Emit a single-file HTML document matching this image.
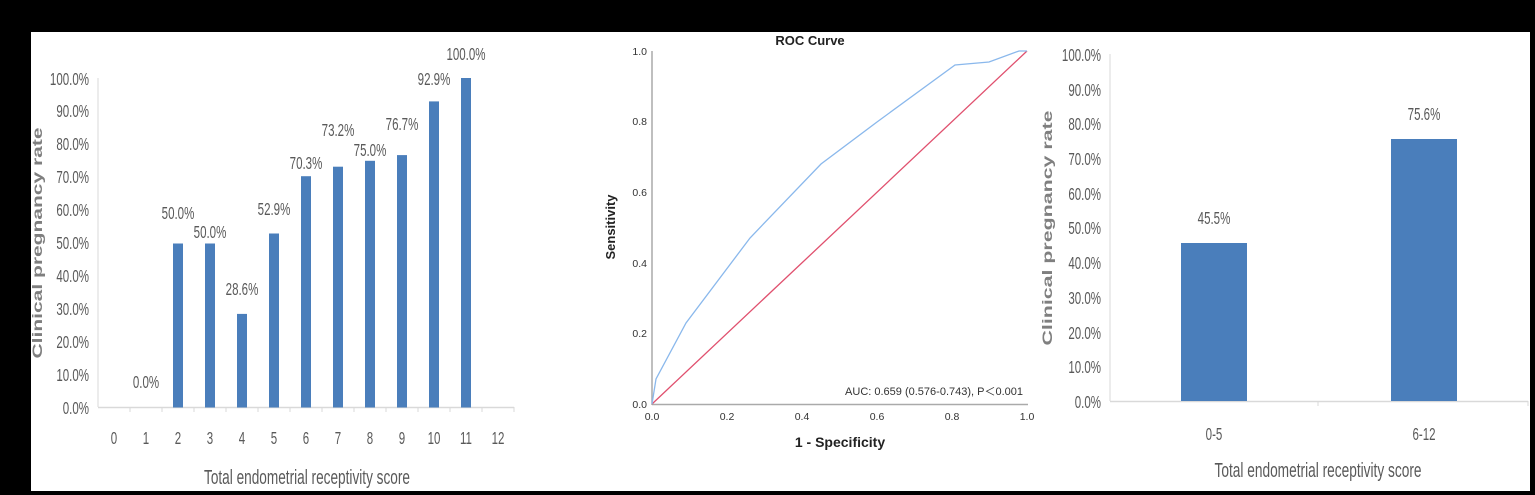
<!DOCTYPE html>
<html><head><meta charset="utf-8"><style>
html,body{margin:0;padding:0;background:#000;}
svg{display:block}
.t{font-family:"Liberation Sans",sans-serif;fill:#595959;font-size:18px}
.se{transform-box:fill-box;transform-origin:right center;transform:scaleX(.64)}
.sm{transform-box:fill-box;transform-origin:center center;transform:scaleX(.64)}
.a{font-family:"Liberation Sans",sans-serif;fill:#333;font-size:10.5px}
.b{font-family:"Liberation Sans",sans-serif;font-weight:bold;fill:#222}
</style></head><body>
<svg width="1535" height="495" viewBox="0 0 1535 495" xmlns="http://www.w3.org/2000/svg">
<rect x="0" y="0" width="1535" height="495" fill="#000"/>
<rect x="31" y="32" width="1499" height="459" fill="#fff"/>

<!-- Chart 1 -->
<g>
<line x1="98" y1="78" x2="98" y2="407" stroke="#d9d9d9"/>
<line x1="98" y1="407.5" x2="514" y2="407.5" stroke="#d9d9d9" stroke-width="1.5"/>
<g stroke="#d9d9d9">
<line x1="130" y1="407" x2="130" y2="412"/><line x1="162" y1="407" x2="162" y2="412"/><line x1="194" y1="407" x2="194" y2="412"/><line x1="226" y1="407" x2="226" y2="412"/><line x1="258" y1="407" x2="258" y2="412"/><line x1="290" y1="407" x2="290" y2="412"/><line x1="322" y1="407" x2="322" y2="412"/><line x1="354" y1="407" x2="354" y2="412"/><line x1="386" y1="407" x2="386" y2="412"/><line x1="418" y1="407" x2="418" y2="412"/><line x1="450" y1="407" x2="450" y2="412"/><line x1="482" y1="407" x2="482" y2="412"/><line x1="514" y1="407" x2="514" y2="412"/>
</g>
<g class="t" text-anchor="end">
<text class="se" x="89" y="414">0.0%</text><text class="se" x="89" y="381">10.0%</text><text class="se" x="89" y="348">20.0%</text><text class="se" x="89" y="315">30.0%</text><text class="se" x="89" y="282">40.0%</text><text class="se" x="89" y="249">50.0%</text><text class="se" x="89" y="216">60.0%</text><text class="se" x="89" y="183">70.0%</text><text class="se" x="89" y="150">80.0%</text><text class="se" x="89" y="117">90.0%</text><text class="se" x="89" y="85">100.0%</text>
</g>
<g fill="#4a7ebb">
<rect x="173" y="243.5" width="10" height="164"/>
<rect x="205" y="243.5" width="10" height="164"/>
<rect x="237" y="313.9" width="10" height="93.6"/>
<rect x="269" y="233.5" width="10" height="174"/>
<rect x="301" y="176.2" width="10" height="231.3"/>
<rect x="333" y="166.7" width="10" height="240.8"/>
<rect x="365" y="160.8" width="10" height="246.7"/>
<rect x="397" y="155.1" width="10" height="252.4"/>
<rect x="429" y="101.4" width="10" height="306.1"/>
<rect x="461" y="78" width="10" height="329.5"/>
</g>
<g class="t" text-anchor="middle">
<text class="sm" x="146" y="388">0.0%</text>
<text class="sm" x="178" y="219">50.0%</text><text class="sm" x="210" y="238">50.0%</text><text class="sm" x="242" y="295">28.6%</text>
<text class="sm" x="274" y="215">52.9%</text><text class="sm" x="306" y="169">70.3%</text><text class="sm" x="338" y="136">73.2%</text>
<text class="sm" x="370" y="156">75.0%</text><text class="sm" x="402" y="130">76.7%</text><text class="sm" x="434" y="85">92.9%</text><text class="sm" x="466" y="60">100.0%</text>
</g>
<g class="t" text-anchor="middle">
<text class="sm" x="114" y="444">0</text><text class="sm" x="146" y="444">1</text><text class="sm" x="178" y="444">2</text><text class="sm" x="210" y="444">3</text><text class="sm" x="242" y="444">4</text><text class="sm" x="274" y="444">5</text><text class="sm" x="306" y="444">6</text><text class="sm" x="338" y="444">7</text><text class="sm" x="370" y="444">8</text><text class="sm" x="402" y="444">9</text><text class="sm" x="434" y="444">10</text><text class="sm" x="466" y="444">11</text><text class="sm" x="498" y="444">12</text>
</g>
<text class="t" x="307" y="484" text-anchor="middle" style="font-size:20px" textLength="206" lengthAdjust="spacingAndGlyphs">Total endometrial receptivity score</text>
<text class="b" x="0" y="0" transform="translate(42,243) rotate(-90)" text-anchor="middle" style="font-size:14px;fill:#7f7f7f" textLength="231" lengthAdjust="spacingAndGlyphs">Clinical pregnancy rate</text>
</g>

<!-- Chart 2 ROC -->
<g>
<text class="b" x="810" y="45" text-anchor="middle" style="font-size:13px">ROC Curve</text>
<line x1="652" y1="51" x2="652" y2="405" stroke="#aaa" stroke-width="1.5"/>
<line x1="652" y1="404.5" x2="1028" y2="404.5" stroke="#aaa" stroke-width="1.5"/>
<g class="a" text-anchor="end">
<text x="647" y="408">0.0</text><text x="647" y="337">0.2</text><text x="647" y="267">0.4</text><text x="647" y="196">0.6</text><text x="647" y="125">0.8</text><text x="647" y="55">1.0</text>
</g>
<g class="a" text-anchor="middle">
<text x="652" y="420">0.0</text><text x="727" y="420">0.2</text><text x="802" y="420">0.4</text><text x="877" y="420">0.6</text><text x="952" y="420">0.8</text><text x="1027" y="420">1.0</text>
</g>
<text class="b" x="840" y="447" text-anchor="middle" style="font-size:14px">1 - Specificity</text>
<text class="b" x="0" y="0" transform="translate(615,227) rotate(-90)" text-anchor="middle" style="font-size:13px">Sensitivity</text>
<line x1="652" y1="404" x2="1027" y2="51" stroke="#e0506e" stroke-width="1.3"/>
<polyline fill="none" stroke="#8ab8ec" stroke-width="1.3" points="652,404 656,379 686,323 750,238 821,164 877,122 955,65 989,62 1019,51 1027,51"/>
<text class="a" x="1023" y="395" text-anchor="end" style="font-size:11px">AUC: 0.659 (0.576-0.743), P＜0.001</text>
</g>

<!-- Chart 3 -->
<g>
<line x1="1110" y1="54" x2="1110" y2="401" stroke="#d9d9d9"/>
<line x1="1110" y1="401.5" x2="1528" y2="401.5" stroke="#d9d9d9" stroke-width="1.5"/>
<line x1="1318" y1="401" x2="1318" y2="406" stroke="#d9d9d9"/>
<line x1="1528" y1="401" x2="1528" y2="406" stroke="#d9d9d9"/>
<g class="t" text-anchor="end">
<text class="se" x="1101" y="408">0.0%</text><text class="se" x="1101" y="373">10.0%</text><text class="se" x="1101" y="339">20.0%</text><text class="se" x="1101" y="304">30.0%</text><text class="se" x="1101" y="269">40.0%</text><text class="se" x="1101" y="234">50.0%</text><text class="se" x="1101" y="200">60.0%</text><text class="se" x="1101" y="165">70.0%</text><text class="se" x="1101" y="130">80.0%</text><text class="se" x="1101" y="96">90.0%</text><text class="se" x="1101" y="61">100.0%</text>
</g>
<rect x="1181" y="243" width="66" height="158" fill="#4a7ebb"/>
<rect x="1391" y="139" width="66" height="262" fill="#4a7ebb"/>
<g class="t" text-anchor="middle">
<text class="sm" x="1214" y="224">45.5%</text><text class="sm" x="1424" y="120">75.6%</text>
<text class="sm" x="1214" y="440">0-5</text><text class="sm" x="1424" y="440">6-12</text>
</g>
<text class="t" x="1318" y="477" text-anchor="middle" style="font-size:20px" textLength="207" lengthAdjust="spacingAndGlyphs">Total endometrial receptivity score</text>
<text class="b" x="0" y="0" transform="translate(1052,228) rotate(-90)" text-anchor="middle" style="font-size:14px;fill:#7f7f7f" textLength="235" lengthAdjust="spacingAndGlyphs">Clinical pregnancy rate</text>
</g>
</svg>
</body></html>
